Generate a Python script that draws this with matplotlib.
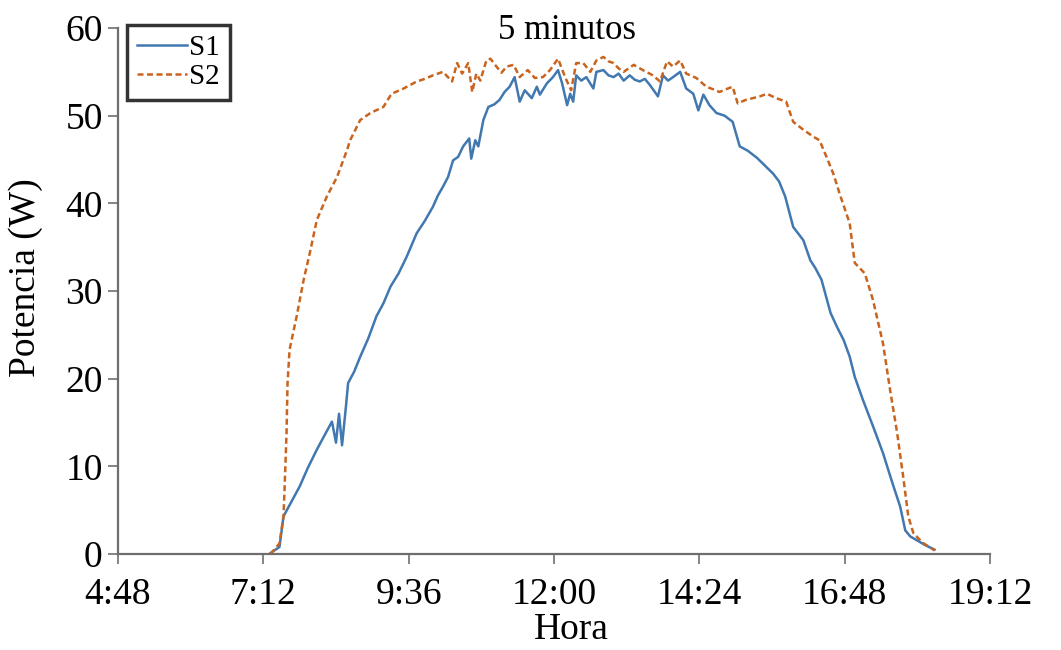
import matplotlib
matplotlib.use("Agg")
import matplotlib.pyplot as plt
from matplotlib.ticker import FuncFormatter

# S1 readings (time of day, W)
s1_time = ["7:19", "7:28", "7:32", "7:40", "7:48", "7:56", "8:05", "8:12", "8:20", "8:24",
           "8:27", "8:30", "8:34", "8:36", "8:42", "8:48", "8:56", "9:04", "9:11", "9:18",
           "9:26", "9:34", "9:44", "9:52", "10:00", "10:05", "10:10", "10:15", "10:20", "10:25",
           "10:30", "10:36", "10:38", "10:42", "10:45", "10:50", "10:55", "11:01", "11:06", "11:11",
           "11:16", "11:21", "11:26", "11:31", "11:38", "11:43", "11:46", "11:53", "11:59", "12:04",
           "12:08", "12:13", "12:16", "12:19", "12:22", "12:27", "12:32", "12:39", "12:42", "12:49",
           "12:54", "12:59", "13:04", "13:09", "13:15", "13:20", "13:25", "13:30", "13:35", "13:43",
           "13:48", "13:53", "13:58", "14:05", "14:11", "14:18", "14:23", "14:28", "14:34", "14:41",
           "14:49", "14:57", "15:04", "15:12", "15:21", "15:29", "15:37", "15:43", "15:49", "15:57",
           "16:07", "16:14", "16:19", "16:25", "16:34", "16:40", "16:47", "16:53", "16:58", "17:06",
           "17:16", "17:26", "17:35", "17:43", "17:48", "17:53", "17:59", "18:08", "18:17"]
s1 = [0.1, 0.8, 4.3, 6.0, 7.7, 9.8, 11.9, 13.4, 15.1, 12.7,
      16.0, 12.4, 17.0, 19.5, 20.8, 22.5, 24.6, 27.1, 28.6, 30.5,
      32.0, 33.9, 36.6, 38.0, 39.6, 40.9, 41.9, 43.0, 44.9, 45.3,
      46.5, 47.4, 45.1, 47.2, 46.5, 49.5, 51.0, 51.3, 51.8, 52.7,
      53.3, 54.4, 51.6, 52.9, 52.0, 53.3, 52.4, 53.7, 54.4, 55.2,
      53.7, 51.2, 52.5, 51.6, 54.6, 54.0, 54.4, 53.1, 55.0, 55.2,
      54.6, 54.4, 54.8, 54.0, 54.6, 54.1, 53.9, 54.2, 53.5, 52.2,
      54.6, 54.0, 54.4, 55.0, 53.1, 52.5, 50.6, 52.4, 51.2, 50.3,
      50.0, 49.3, 46.5, 46.0, 45.2, 44.3, 43.4, 42.5, 40.8, 37.3,
      35.8, 33.5, 32.6, 31.3, 27.5, 26.0, 24.4, 22.5, 20.2, 17.6,
      14.6, 11.5, 8.2, 5.4, 2.7, 2.0, 1.6, 1.0, 0.5]

# S2 readings (time of day, W)
s2_time = ["7:19", "7:28", "7:32", "7:33", "7:35", "7:36", "7:38", "7:45", "7:52", "7:58",
           "8:05", "8:15", "8:25", "8:35", "8:38", "8:48", "8:58", "9:11", "9:19", "9:31",
           "9:44", "9:52", "10:00", "10:10", "10:19", "10:24", "10:29", "10:35", "10:39", "10:43",
           "10:47", "10:53", "10:57", "11:03", "11:08", "11:13", "11:20", "11:26", "11:34", "11:41",
           "11:49", "11:56", "12:04", "12:11", "12:17", "12:22", "12:29", "12:36", "12:42", "12:49",
           "12:54", "12:59", "13:04", "13:09", "13:19", "13:28", "13:38", "13:45", "13:52", "13:58",
           "14:05", "14:11", "14:21", "14:31", "14:38", "14:44", "14:50", "14:57", "15:02", "15:10",
           "15:17", "15:24", "15:31", "15:40", "15:50", "15:57", "16:07", "16:17", "16:23", "16:30",
           "16:37", "16:43", "16:53", "16:58", "17:03", "17:08", "17:16", "17:26", "17:33", "17:40",
           "17:46", "17:51", "17:56", "18:05", "18:14", "18:17"]
s2 = [0.0, 1.2, 4.3, 7.3, 13.8, 19.5, 23.3, 27.1, 31.3, 34.3,
      38.1, 40.8, 43.0, 46.1, 47.2, 49.5, 50.3, 51.0, 52.5, 53.1,
      53.9, 54.2, 54.6, 55.0, 53.9, 56.0, 54.8, 56.0, 52.7, 54.8,
      54.0, 56.3, 56.5, 55.6, 54.9, 55.6, 55.8, 54.4, 55.2, 54.3,
      54.4, 55.2, 56.5, 54.4, 52.9, 56.0, 56.0, 55.0, 56.3, 56.7,
      56.2, 56.0, 55.4, 55.0, 55.8, 55.2, 54.6, 53.9, 56.2, 55.6,
      56.3, 54.8, 54.3, 53.3, 53.0, 52.7, 53.0, 53.3, 51.4, 51.8,
      52.0, 52.2, 52.5, 52.0, 51.6, 49.3, 48.4, 47.6, 47.2, 45.3,
      43.3, 41.1, 37.7, 33.2, 32.6, 32.0, 29.0, 24.0, 18.7, 13.8,
      8.8, 4.3, 2.4, 1.3, 0.65, 0.4]

x_ticks = [4.8, 7.2, 9.6, 12.0, 14.4, 16.8, 19.2]
y_ticks = [0, 10, 20, 30, 40, 50, 60]


def to_hours(t):
    h, m = t.split(":")
    return int(h) + int(m) / 60


def hhmm(v, pos=None):
    mins = int(round(v * 60))
    return f"{mins // 60}:{mins % 60:02d}"


plt.rcParams["font.family"] = ["Liberation Serif", "DejaVu Serif"]

fig = plt.figure(figsize=(10.61, 6.5), dpi=100)
ax = fig.add_axes([0.1112, 0.1477, 0.8219, 0.8092])

ax.plot([to_hours(t) for t in s1_time], s1, color="#4178b0", lw=1.8, label="S1")
ax.plot([to_hours(t) for t in s2_time], s2, color="#c8641e", lw=1.8,
        linestyle=(0, (2.4, 1.4)), label="S2")

ax.set_xlim(x_ticks[0], x_ticks[-1])
ax.set_ylim(0, 60)
ax.set_xticks(x_ticks)
ax.set_yticks(y_ticks)
ax.xaxis.set_major_formatter(FuncFormatter(hhmm))

for s in ["top", "right"]:
    ax.spines[s].set_visible(False)
for s in ["left", "bottom"]:
    ax.spines[s].set_color("#6e6e6e")
    ax.spines[s].set_linewidth(1.6)
ax.tick_params(direction="out", length=7, width=1.2, color="#6e6e6e",
               labelsize=27)
ax.tick_params(axis="x", pad=10)
ax.tick_params(axis="y", pad=4)

ax.set_xlabel("Hora", fontsize=27)
ax.set_ylabel("Potencia (W)", fontsize=27)
ax.xaxis.set_label_coords(0.52, -0.112)
ax.yaxis.set_label_coords(-0.086, 0.525)
ax.text(0.515, 0.995, "5 minutos", transform=ax.transAxes, ha="center",
        va="center", fontsize=25)

leg = ax.legend(loc="upper left", bbox_to_anchor=(0.0105, 1.006), borderaxespad=0,
                fontsize=21, frameon=True, fancybox=False, handlelength=1.7,
                handletextpad=0.08, borderpad=0.35, labelspacing=0.08)
leg.get_frame().set_edgecolor("black")
leg.get_frame().set_linewidth(2.5)

fig.savefig("out.png", dpi=100)
